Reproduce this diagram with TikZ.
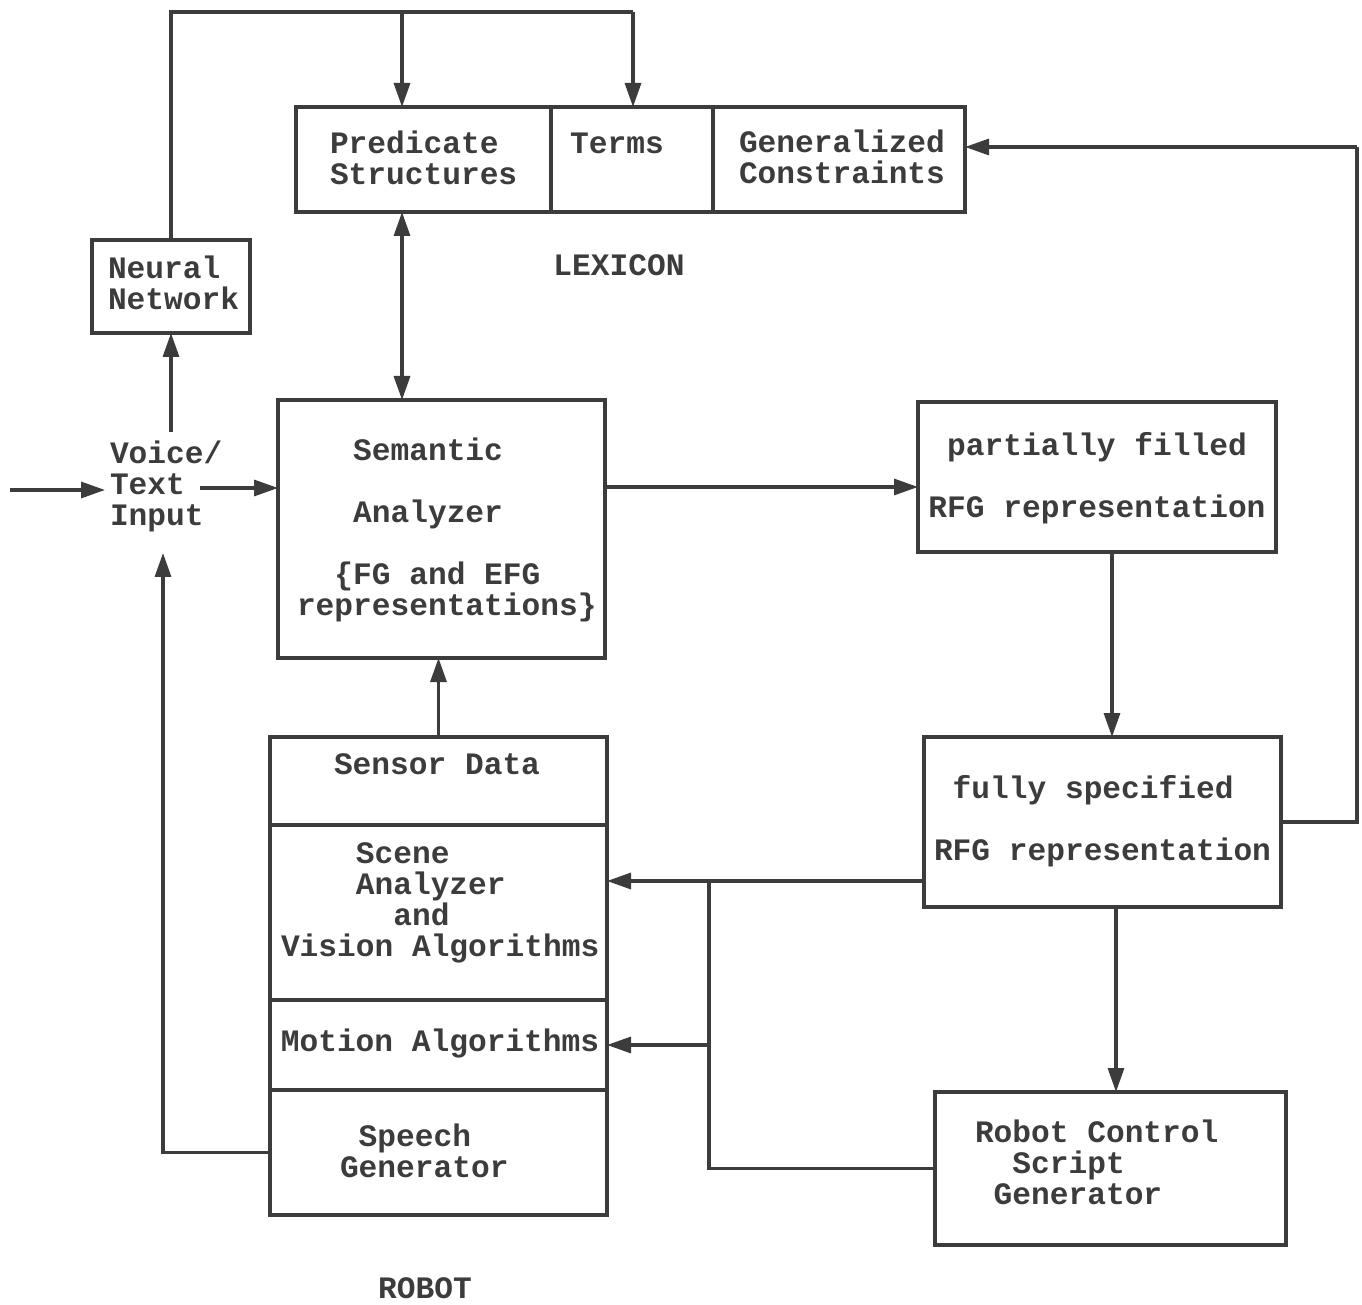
\documentclass[tikz,border=0pt]{standalone}
\usepackage{fontspec}
\setmonofont{Liberation Mono}
\usetikzlibrary{arrows.meta}
\definecolor{ink}{HTML}{3C3C3C}
\newcommand{\ph}[1]{\hphantom{\ttfamily\bfseries #1}}
\begin{document}
\begin{tikzpicture}[x=0.5pt,y=-0.5pt,
  every node/.style={text=ink},
  box/.style={draw=ink,line width=1.8pt,rectangle,inner sep=0pt,outer sep=0pt},
  txt/.style={font=\ttfamily\bfseries\fontsize{15.6pt}{15.5pt}\selectfont,inner sep=0pt,outer sep=0pt},
  con/.style={draw=ink,line width=1.6pt},
  arr/.style={con,-{Triangle[length=12pt,width=8pt]}},
  arrtwo/.style={con,{Triangle[length=12pt,width=8pt]}-{Triangle[length=12pt,width=8pt]}}]
\useasboundingbox (0,0) rectangle (1362,1305);
\fill[white] (0,0) rectangle (1362,1305);

% Lexicon
\node[box,minimum width=127.5pt,minimum height=52.5pt] (pred) at (423.5,159.5) {};
\node[box,minimum width=81pt,minimum height=52.5pt] (terms) at (632,159.5) {};
\node[box,minimum width=126pt,minimum height=52.5pt] (gen) at (839,159.5) {};
\node[txt,anchor=west,align=left] (predtxt) at (330,158) {Predicate\\Structures};
\node[txt] (termstxt) at (617,143) {Terms};
\node[txt,anchor=west,align=left] (gentxt) at (739,156.5) {Generalized\\Constraints};
\node[txt] (lexlabel) at (619,265) {LEXICON};

% Neural network
\node[box,minimum width=79pt,minimum height=46.5pt] (neural) at (171,286.5) {};
\node[txt,anchor=west,align=left] (neuraltxt) at (108,283) {Neural\\Network};

% Voice input
\node[txt,anchor=west,align=left] (voice) at (110,486) {Voice/\\Text\\Input};

% Semantic analyzer
\node[box,minimum width=163.5pt,minimum height=129pt] (sem) at (441.5,529) {};
\node[txt,anchor=west,align=left] (semtxt) at (297,529.5)
  {\ph{xxx}Semantic\\[15.5pt]\ph{xxx}Analyzer\\[15.5pt]\ph{xx}\{FG and EFG\\representations\}};

% RFG boxes
\node[box,minimum width=179pt,minimum height=75pt] (part) at (1097,477) {};
\node[txt,align=center] (parttxt) at (1097,478) {partially filled\\[15.5pt]RFG representation};
\node[box,minimum width=178.5pt,minimum height=85pt] (full) at (1102.5,822) {};
\node[txt,anchor=west,align=left] (fulltxt) at (934,821) {\ph{x}fully specified\\[15.5pt]RFG representation};
\node[box,minimum width=175.5pt,minimum height=76.5pt] (rcs) at (1110.5,1168.5) {};
\node[txt,anchor=west,align=left] (rcstxt) at (975,1162) {Robot Control\\\ph{xx}Script\\\ph{x}Generator};

% Robot
\node[box,minimum width=168.5pt,minimum height=44pt] (sensor) at (438.5,781) {};
\node[box,minimum width=168.5pt,minimum height=87.5pt] (scene) at (438.5,912.5) {};
\node[box,minimum width=168.5pt,minimum height=45pt] (motion) at (438.5,1045) {};
\node[box,minimum width=168.5pt,minimum height=62.5pt] (speech) at (438.5,1152.5) {};
\node[txt] (sensortxt) at (437,764) {Sensor Data};
\node[txt,anchor=west,align=left] (scenetxt) at (281,903)
  {\ph{xxxx}Scene\\\ph{xxxx}Analyzer\\\ph{xxxxxx}and\\Vision Algorithms};
\node[txt] (motiontxt) at (440,1043) {Motion Algorithms};
\node[txt,anchor=west,align=left] (speechtxt) at (340,1151) {\ph{x}Speech\\Generator};
\node[txt] (robotlabel) at (425,1288) {ROBOT};

% Coordinates
\coordinate (tm) at (402,12);
\coordinate (tr) at (633,12);
\coordinate (in) at (10,490);
\coordinate (vt) at (200,488);
\coordinate (vb) at (163,553);
\coordinate (sp) at (700,487);
\coordinate (pf) at (1112,600);
\coordinate (fr) at (1116,1000);
\coordinate (rc) at (1357,147);
\coordinate (br) at (709,881);

% Connectors
\draw[con] (neural.north) |- (tr);
\draw[arr] (tr) -- (tr |- terms.north);
\draw[arr] (tm) -- (tm |- pred.north);
\draw[arrtwo] (tm |- pred.south) -- (tm |- sem.north);
\draw[arr] (neural.south |- voice.north) ++(0,-8) -- (neural.south);
\draw[arr] (in) -- (105,490);
\draw[arr] (vt) -- (sem.west |- vt);
\draw[arr] (speech.west) -| (vb);
\draw[arr] (sensor.north) -- (sensor.north |- sem.south);
\draw[arr] (sem.east |- sp) -- (part.west |- sp);
\draw[arr] (part.south -| pf) -- (full.north -| pf);
\draw[arr] (full.south -| fr) -- (rcs.north -| fr);
\draw[con] (full.east) -| (rc);
\draw[arr] (rc) -- (gen.east |- rc);
\draw[arr] (full.west |- br) -- (scene.east |- br);
\draw[con] (br) |- (rcs.west);
\draw[arr] (br |- motion.east) -- (motion.east);
\end{tikzpicture}
\end{document}
